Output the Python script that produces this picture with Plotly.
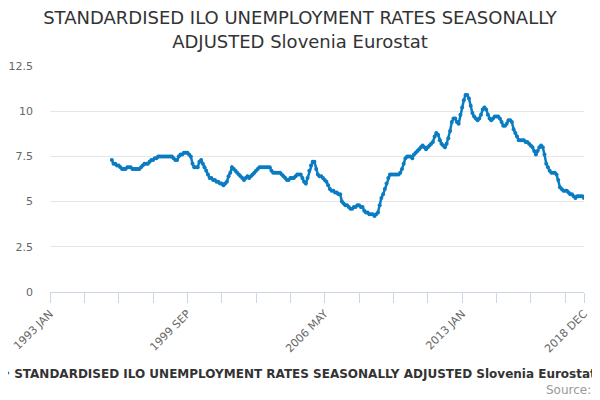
import plotly.graph_objects as go

MONTHS = ["JAN", "FEB", "MAR", "APR", "MAY", "JUN", "JUL", "AUG", "SEP", "OCT", "NOV", "DEC"]
categories = [f"{y} {m}" for y in range(1993, 2019) for m in MONTHS]

series_name = "STANDARDISED ILO UNEMPLOYMENT RATES SEASONALLY ADJUSTED Slovenia Eurostat"
first_month = "1996 JAN"
values = [
    7.3, 7.1, 7.1, 7.0, 7.0, 6.9, 6.8, 6.8, 6.8, 6.9, 6.9, 6.9,   # 1996
    6.8, 6.8, 6.8, 6.8, 6.8, 6.9, 7.0, 7.1, 7.1, 7.1, 7.2, 7.3,   # 1997
    7.3, 7.4, 7.4, 7.5, 7.5, 7.5, 7.5, 7.5, 7.5, 7.5, 7.5, 7.5,   # 1998
    7.4, 7.3, 7.3, 7.5, 7.6, 7.6, 7.7, 7.7, 7.7, 7.6, 7.5, 7.1,   # 1999
    6.9, 6.9, 6.9, 7.2, 7.3, 7.1, 6.9, 6.7, 6.5, 6.3, 6.3, 6.2,   # 2000
    6.2, 6.1, 6.1, 6.0, 6.0, 5.9, 6.0, 6.1, 6.4, 6.6, 6.9, 6.8,   # 2001
    6.7, 6.6, 6.5, 6.4, 6.3, 6.2, 6.3, 6.4, 6.3, 6.4, 6.5, 6.6,   # 2002
    6.7, 6.8, 6.9, 6.9, 6.9, 6.9, 6.9, 6.9, 6.9, 6.7, 6.6, 6.6,   # 2003
    6.6, 6.6, 6.6, 6.5, 6.4, 6.3, 6.2, 6.2, 6.3, 6.3, 6.3, 6.4,   # 2004
    6.5, 6.5, 6.5, 6.3, 6.1, 6.0, 6.3, 6.7, 7.0, 7.2, 7.2, 6.8,   # 2005
    6.5, 6.4, 6.4, 6.3, 6.2, 6.1, 5.9, 5.7, 5.6, 5.6, 5.5, 5.5,   # 2006
    5.4, 5.4, 5.0, 4.9, 4.8, 4.8, 4.7, 4.6, 4.6, 4.7, 4.7, 4.8,   # 2007
    4.8, 4.7, 4.7, 4.5, 4.4, 4.4, 4.3, 4.3, 4.3, 4.2, 4.3, 4.4,   # 2008
    4.8, 5.2, 5.4, 5.7, 6.0, 6.3, 6.5, 6.5, 6.5, 6.5, 6.5, 6.5,   # 2009
    6.6, 6.8, 7.1, 7.4, 7.5, 7.5, 7.5, 7.4, 7.6, 7.7, 7.8, 7.9,   # 2010
    8.0, 8.1, 8.0, 7.9, 8.0, 8.1, 8.2, 8.3, 8.6, 8.8, 8.7, 8.4,   # 2011
    8.2, 8.1, 8.0, 8.2, 8.5, 8.9, 9.4, 9.6, 9.6, 9.4, 9.3, 9.8,   # 2012
    10.2, 10.6, 10.9, 10.9, 10.7, 10.3, 9.9, 9.7, 9.6, 9.5, 9.6, 9.8,   # 2013
    10.1, 10.2, 10.1, 9.8, 9.6, 9.5, 9.6, 9.7, 9.7, 9.7, 9.6, 9.4,   # 2014
    9.2, 9.2, 9.3, 9.5, 9.5, 9.4, 9.0, 8.8, 8.6, 8.4, 8.4, 8.4,   # 2015
    8.4, 8.3, 8.3, 8.2, 8.1, 8.0, 7.8, 7.6, 7.8, 8.0, 8.1, 8.0,   # 2016
    7.6, 7.1, 6.9, 6.7, 6.6, 6.6, 6.6, 6.5, 6.2, 5.8, 5.7, 5.6,   # 2017
    5.6, 5.6, 5.5, 5.4, 5.4, 5.3, 5.2, 5.3, 5.3, 5.3, 5.3, 5.2,   # 2018
]
start = categories.index(first_month)
x_cats = categories[start:start + len(values)]

tick_labels = ["1993 JAN", "1999 SEP", "2006 MAY", "2013 JAN", "2018 DEC"]
tick_step = 20
tick_positions = categories[::tick_step] + [categories[-1]]
tick_text = [c if c in tick_labels else "" for c in tick_positions]

COLOR = "#0a7cc1"
FONT = "DejaVu Sans"

fig = go.Figure(
    go.Scatter(
        x=x_cats,
        y=values,
        name=series_name,
        mode="lines+markers",
        line=dict(color=COLOR, width=2.5),
        marker=dict(color=COLOR, size=4),
    )
)

# the page body adds an 8px offset, so the layout is shifted up/left by 8px
fig.update_layout(
    width=600,
    height=400,
    paper_bgcolor="white",
    plot_bgcolor="white",
    margin=dict(l=42, r=24, t=58, b=116, autoexpand=False),
    font=dict(family=FONT, color="#666666"),
    title=dict(
        text="STANDARDISED ILO UNEMPLOYMENT RATES SEASONALLY<br>ADJUSTED Slovenia Eurostat",
        font=dict(family=FONT, size=18, color="#333333"),
        x=(300 - 8) / 600,
        xanchor="center",
        xref="container",
        yref="container",
        y=0.959,
        yanchor="middle",
    ),
    showlegend=True,
    legend=dict(
        orientation="h",
        xref="paper",
        yref="paper",
        x=-0.142,
        xanchor="left",
        y=-0.358,
        yanchor="middle",
        font=dict(family=FONT, size=12, color="#333333", weight="bold"),
        itemwidth=30,
        bgcolor="rgba(0,0,0,0)",
    ),
    annotations=[
        dict(
            text="Source:",
            xref="paper",
            yref="paper",
            x=1.017,
            y=-0.434,
            xanchor="right",
            yanchor="middle",
            showarrow=False,
            font=dict(family=FONT, size=12, color="#999999"),
        )
    ],
)

fig.update_xaxes(
    type="category",
    categoryorder="array",
    categoryarray=categories,
    range=[0, len(categories) - 1],
    automargin=False,
    tickmode="array",
    tickvals=tick_positions,
    ticktext=tick_text,
    tickangle=-45,
    ticks="outside",
    ticklen=10,
    tickcolor="#ccd6eb",
    tickwidth=1,
    showline=True,
    linecolor="#ccd6eb",
    linewidth=1,
    showgrid=False,
    zeroline=False,
    tickfont=dict(family=FONT, size=11, color="#666666"),
)

fig.update_yaxes(
    range=[0, 12.5],
    dtick=2.5,
    tick0=0,
    automargin=False,
    showgrid=True,
    gridcolor="#e6e6e6",
    gridwidth=1,
    zeroline=False,
    showline=False,
    ticks="",
    ticklabelstandoff=16,
    tickfont=dict(family=FONT, size=11, color="#666666"),
)

fig.write_html("out.html")
